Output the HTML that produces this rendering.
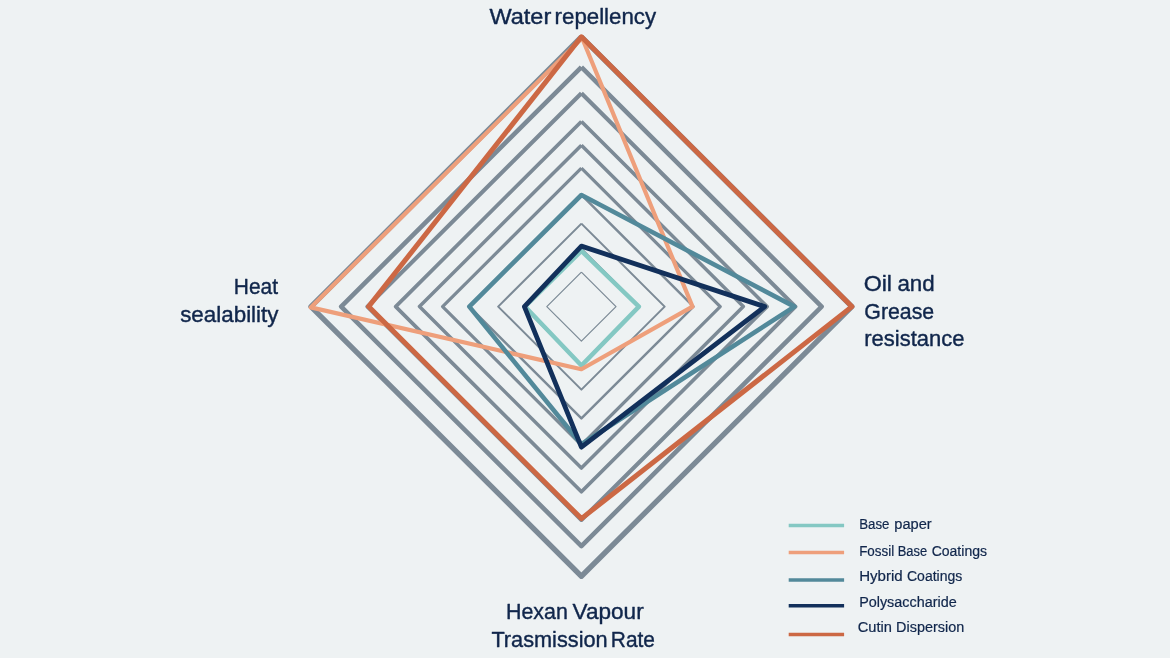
<!DOCTYPE html>
<html lang="en">
<head>
<meta charset="utf-8">
<title>Coating performance radar chart</title>
<style>
html,body{margin:0;padding:0;background:#eef2f3;}
body{width:1170px;height:658px;overflow:hidden;}
svg{display:block;}
text{font-family:"Liberation Sans",sans-serif;fill:#10264b;stroke:#10264b;stroke-width:0.4px;stroke-linejoin:round;}
text.lg{stroke-width:0.2px;}
</style>
</head>
<body>
<svg width="1170" height="658" viewBox="0 0 1170 658">
<rect width="1170" height="658" fill="#eef2f3"/>
<g fill="none" stroke="#7c8a96" stroke-linejoin="round" stroke-linecap="butt">
<path d="M581.4 272.1 L616 306.6 L581.4 341.1 L546.8 306.6 L581.4 272.1" stroke-width="1.2"/>
<path d="M581.4 248.35 L639.82 306.6 L581.4 364.85 L522.98 306.6 L581.4 248.35" stroke-width="1.5"/>
<path d="M581.4 223.6 L664.65 306.6 L581.4 389.6 L498.15 306.6 L581.4 223.6" stroke-width="2"/>
<path d="M581.4 194.85 L693.49 306.6 L581.4 418.35 L469.31 306.6 L581.4 194.85" stroke-width="2.5"/>
<path d="M581.4 168.2 L720.22 306.6 L581.4 445 L442.58 306.6 L581.4 168.2" stroke-width="3.2"/>
<path d="M581.4 145.15 L743.33 306.6 L581.4 468.05 L419.47 306.6 L581.4 145.15" stroke-width="3.5"/>
<path d="M581.4 121.45 L767.11 306.6 L581.4 491.75 L395.69 306.6 L581.4 121.45" stroke-width="3.7"/>
<path d="M581.4 93.25 L795.39 306.6 L581.4 519.95 L367.41 306.6 L581.4 93.25" stroke-width="4.1"/>
<path d="M581.4 67.1 L821.62 306.6 L581.4 546.1 L341.18 306.6 L581.4 67.1" stroke-width="4.6"/>
<path d="M581.4 36.95 L851.86 306.6 L581.4 576.25 L310.94 306.6 L581.4 36.95" stroke-width="5.3"/>
</g>
<g fill="none" stroke-linejoin="round" stroke-linecap="round">
<path d="M581.4 250.9 L638.9 306.6 L581.4 365.6 L525 306.6 Z" stroke="#84c8c3" stroke-width="4.4"/>
<path d="M582.1 38 L692.5 306.6 L581.4 369.25 L310.8 307.4 Z" stroke="#ee9f7b" stroke-width="4.2"/>
<path d="M581.4 195 L794.4 306.6 L581.4 444.2 L469.3 306.6 Z" stroke="#52899a" stroke-width="4.6"/>
<path d="M581.4 246.1 L764.7 306.6 L581.4 447.1 L524.4 306.6 Z" stroke="#12305b" stroke-width="4.8"/>
<path d="M581.4 36.8 L851.9 306.6 L581.4 518.6 L368.6 306.6 Z" stroke="#cc6844" stroke-width="5"/>
</g>
<text y="23.8" font-size="22"><tspan x="489.4" textLength="61.85" lengthAdjust="spacingAndGlyphs">Water</tspan> <tspan x="554.6" textLength="101.51" lengthAdjust="spacingAndGlyphs">repellency</tspan></text>
<text y="294" font-size="22"><tspan x="233.8" textLength="44.2" lengthAdjust="spacingAndGlyphs">Heat</tspan></text>
<text y="322.3" font-size="22"><tspan x="180.15" textLength="98.35" lengthAdjust="spacingAndGlyphs">sealability</tspan></text>
<text y="291" font-size="22"><tspan x="863.7" textLength="28.34" lengthAdjust="spacingAndGlyphs">Oil</tspan> <tspan x="897.45" textLength="37.27" lengthAdjust="spacingAndGlyphs">and</tspan></text>
<text y="318.7" font-size="22"><tspan x="864.35" textLength="69.8" lengthAdjust="spacingAndGlyphs">Grease</tspan></text>
<text y="345.8" font-size="22"><tspan x="864.25" textLength="100.19" lengthAdjust="spacingAndGlyphs">resistance</tspan></text>
<text y="619" font-size="22"><tspan x="505.95" textLength="61.88" lengthAdjust="spacingAndGlyphs">Hexan</tspan> <tspan x="572.55" textLength="71.15" lengthAdjust="spacingAndGlyphs">Vapour</tspan></text>
<text y="646.6" font-size="22"><tspan x="491.4" textLength="116.22" lengthAdjust="spacingAndGlyphs">Trasmission</tspan> <tspan x="610.85" textLength="44.11" lengthAdjust="spacingAndGlyphs">Rate</tspan></text>
<line x1="788.7" y1="525.6" x2="844.1" y2="525.6" stroke="#84c8c3" stroke-width="3.5"/>
<text class="lg" y="529.3" font-size="14"><tspan x="859.15" textLength="30.28" lengthAdjust="spacingAndGlyphs">Base</tspan> <tspan x="894.35" textLength="37.38" lengthAdjust="spacingAndGlyphs">paper</tspan></text>
<line x1="788.7" y1="552.5" x2="844.1" y2="552.5" stroke="#ee9f7b" stroke-width="3.5"/>
<text class="lg" y="556.1" font-size="14"><tspan x="859.15" textLength="34.99" lengthAdjust="spacingAndGlyphs">Fossil</tspan> <tspan x="897.7" textLength="29.47" lengthAdjust="spacingAndGlyphs">Base</tspan> <tspan x="931.65" textLength="55.37" lengthAdjust="spacingAndGlyphs">Coatings</tspan></text>
<line x1="788.7" y1="579.9" x2="844.1" y2="579.9" stroke="#52899a" stroke-width="3.5"/>
<text class="lg" y="581.2" font-size="14"><tspan x="859.15" textLength="43.54" lengthAdjust="spacingAndGlyphs">Hybrid</tspan> <tspan x="907" textLength="55.32" lengthAdjust="spacingAndGlyphs">Coatings</tspan></text>
<line x1="788.7" y1="605.7" x2="844.1" y2="605.7" stroke="#12305b" stroke-width="3.5"/>
<text class="lg" y="607.3" font-size="14"><tspan x="859.15" textLength="97.52" lengthAdjust="spacingAndGlyphs">Polysaccharide</tspan></text>
<line x1="788.7" y1="634.4" x2="844.1" y2="634.4" stroke="#cc6844" stroke-width="3.5"/>
<text class="lg" y="632.2" font-size="14"><tspan x="857.8" textLength="34.16" lengthAdjust="spacingAndGlyphs">Cutin</tspan> <tspan x="896.1" textLength="68.06" lengthAdjust="spacingAndGlyphs">Dispersion</tspan></text>
</svg>
</body>
</html>
